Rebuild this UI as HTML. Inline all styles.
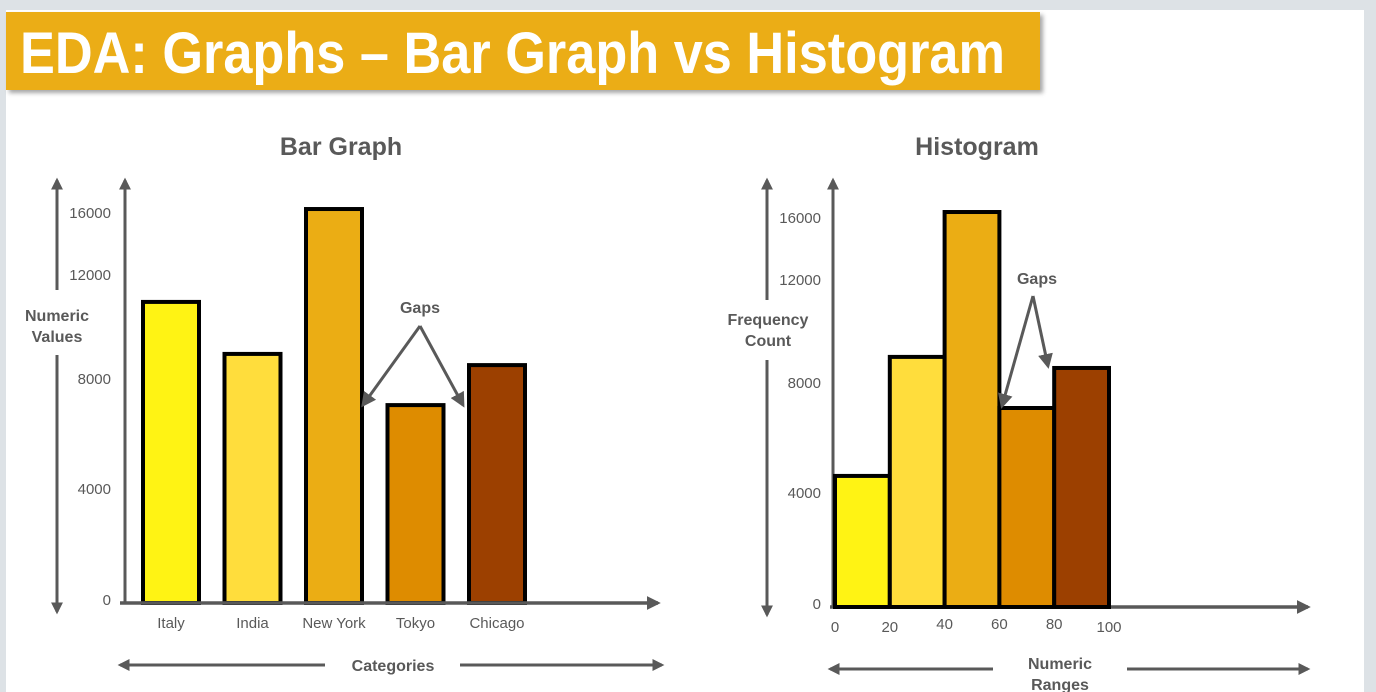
<!DOCTYPE html>
<html><head><meta charset="utf-8"><style>
html,body{margin:0;padding:0;background:#dde2e6;}
svg{display:block;font-family:"Liberation Sans",sans-serif;}
</style></head><body>
<svg width="1376" height="692" viewBox="0 0 1376 692">
<defs>
<marker id="ar" viewBox="0 0 10 10" refX="8" refY="5" markerWidth="4" markerHeight="4" orient="auto-start-reverse"><path d="M0,0L10,5L0,10z" fill="#595959"/></marker>
<marker id="ars" viewBox="0 0 10 10" refX="8" refY="5" markerWidth="5" markerHeight="5" orient="auto"><path d="M0,0L10,5L0,10z" fill="#595959"/></marker>
<filter id="sh" x="-5%" y="-20%" width="110%" height="150%"><feDropShadow dx="3" dy="3" stdDeviation="2" flood-opacity="0.35"/></filter>
</defs>
<rect x="6" y="10" width="1358" height="682" fill="#ffffff"/>
<rect x="6" y="12" width="1034" height="78" fill="#ebad14" filter="url(#sh)"/>
<text x="20" y="73" font-size="58" font-weight="bold" fill="#fff" textLength="985" lengthAdjust="spacingAndGlyphs">EDA: Graphs – Bar Graph vs Histogram</text>
<g id="bar"></g>
<g id="hist"></g>
</svg>
<script>
const barCategories=["Italy","India","New York","Tokyo","Chicago"];
const barValues=[11080,9080,16450,7160,8650];
const barTicks=[0,4000,8000,12000,16000];
const histBins=[0,20,40,60,80,100];
const histValues=[4730,9130,16580,7200,8700];
const histTicks=[0,4000,8000,12000,16000];
const colors=["#fff314","#ffdd3c","#ebad14","#de8c00","#9c4000"];
const NS="http://www.w3.org/2000/svg";
function mk(p,tag,a,txt){const e=document.createElementNS(NS,tag);for(const k in a)e.setAttribute(k,a[k]);if(txt!==undefined)e.textContent=txt;p.appendChild(e);return e;}
// piecewise linear scale (the reference axis is drawn non-uniformly)
function scalePiece(dom,rng){return v=>{let i=0;while(i<dom.length-2&&v>dom[i+1])i++;const t=(v-dom[i])/(dom[i+1]-dom[i]);return rng[i]+t*(rng[i+1]-rng[i]);};}
const G="#595959";
// Bar graph
const bg=document.getElementById('bar');
const by=scalePiece([0,4000,8000,12000,16000],[603,492,382,278,216]);
const bx=i=>143+i*81.5;
let t=mk(bg,'text',{x:341,y:155,'font-size':25,'font-weight':'bold',fill:G,'text-anchor':'middle'},'Bar Graph');

barValues.forEach((v,i)=>{const r=mk(bg,'rect',{x:bx(i),y:by(v),width:56,height:603-by(v),fill:colors[i],stroke:'#000','stroke-width':4});

const l=mk(bg,'text',{x:bx(i)+28,y:628,'font-size':15,fill:G,'text-anchor':'middle'},barCategories[i]);
});
barTicks.forEach(v=>{const l=mk(bg,'text',{x:111,y:by(v)+2,'font-size':15,fill:G,'text-anchor':'end'},String(v));
});
let a=mk(bg,'line',{x1:125,y1:604,x2:125,y2:180,stroke:G,'stroke-width':3,'marker-end':'url(#ar)'});
a=mk(bg,'line',{x1:120,y1:603,x2:658,y2:603,stroke:G,'stroke-width':3.5,'marker-end':'url(#ar)'});
mk(bg,'line',{x1:57,y1:290,x2:57,y2:180,stroke:G,'stroke-width':3,'marker-end':'url(#ar)'});
mk(bg,'line',{x1:57,y1:355,x2:57,y2:612,stroke:G,'stroke-width':3,'marker-end':'url(#ar)'});
t=mk(bg,'text',{x:57,y:321,'font-size':16,'font-weight':'bold',fill:G,'text-anchor':'middle'},'Numeric');
mk(bg,'text',{x:57,y:342,'font-size':16,'font-weight':'bold',fill:G,'text-anchor':'middle'},'Values');
mk(bg,'line',{x1:325,y1:665,x2:120,y2:665,stroke:G,'stroke-width':3,'marker-end':'url(#ar)'});
mk(bg,'line',{x1:460,y1:665,x2:662,y2:665,stroke:G,'stroke-width':3,'marker-end':'url(#ar)'});
t=mk(bg,'text',{x:393,y:671,'font-size':16,'font-weight':'bold',fill:G,'text-anchor':'middle'},'Categories');
t=mk(bg,'text',{x:420,y:313,'font-size':16,'font-weight':'bold',fill:G,'text-anchor':'middle'},'Gaps');
mk(bg,'line',{x1:420,y1:326,x2:363,y2:405,stroke:G,'stroke-width':3,'marker-end':'url(#ars)'});
mk(bg,'line',{x1:420,y1:326,x2:463,y2:405,stroke:G,'stroke-width':3,'marker-end':'url(#ars)'});
// Histogram
const hg=document.getElementById('hist');
const hy=scalePiece([0,4000,8000,12000,16000],[607,496,386,283,221]);
const hx=v=>835+v*2.74;
t=mk(hg,'text',{x:977,y:155,'font-size':25,'font-weight':'bold',fill:G,'text-anchor':'middle'},'Histogram');

a=mk(hg,'line',{x1:833,y1:608,x2:833,y2:180,stroke:G,'stroke-width':3,'marker-end':'url(#ar)'});
a=mk(hg,'line',{x1:830,y1:607,x2:1308,y2:607,stroke:G,'stroke-width':3.5,'marker-end':'url(#ar)'});
histValues.forEach((v,i)=>{const x0=hx(histBins[i]),x1=hx(histBins[i+1]);
const r=mk(hg,'rect',{x:x0,y:hy(v),width:x1-x0,height:607-hy(v),fill:colors[i],stroke:'#000','stroke-width':4});
});
histBins.forEach((b,i)=>{const l=mk(hg,'text',{x:hx(b),y:(i>=2&&i<=4)?629:632,'font-size':15,fill:G,'text-anchor':'middle'},String(b));
});
histTicks.forEach(v=>{const l=mk(hg,'text',{x:821,y:hy(v)+2,'font-size':15,fill:G,'text-anchor':'end'},String(v));
});
mk(hg,'line',{x1:767,y1:300,x2:767,y2:180,stroke:G,'stroke-width':3,'marker-end':'url(#ar)'});
mk(hg,'line',{x1:767,y1:360,x2:767,y2:615,stroke:G,'stroke-width':3,'marker-end':'url(#ar)'});
t=mk(hg,'text',{x:768,y:325,'font-size':16,'font-weight':'bold',fill:G,'text-anchor':'middle'},'Frequency');
mk(hg,'text',{x:768,y:346,'font-size':16,'font-weight':'bold',fill:G,'text-anchor':'middle'},'Count');
mk(hg,'line',{x1:993,y1:669,x2:830,y2:669,stroke:G,'stroke-width':3,'marker-end':'url(#ar)'});
mk(hg,'line',{x1:1127,y1:669,x2:1308,y2:669,stroke:G,'stroke-width':3,'marker-end':'url(#ar)'});
t=mk(hg,'text',{x:1060,y:669,'font-size':16,'font-weight':'bold',fill:G,'text-anchor':'middle'},'Numeric');
mk(hg,'text',{x:1060,y:690,'font-size':16,'font-weight':'bold',fill:G,'text-anchor':'middle'},'Ranges');
t=mk(hg,'text',{x:1037,y:284,'font-size':16,'font-weight':'bold',fill:G,'text-anchor':'middle'},'Gaps');
mk(hg,'line',{x1:1033,y1:296,x2:1002,y2:406,stroke:G,'stroke-width':3,'marker-end':'url(#ars)'});
mk(hg,'line',{x1:1033,y1:296,x2:1048,y2:366,stroke:G,'stroke-width':3,'marker-end':'url(#ars)'});
</script>
</body></html>
